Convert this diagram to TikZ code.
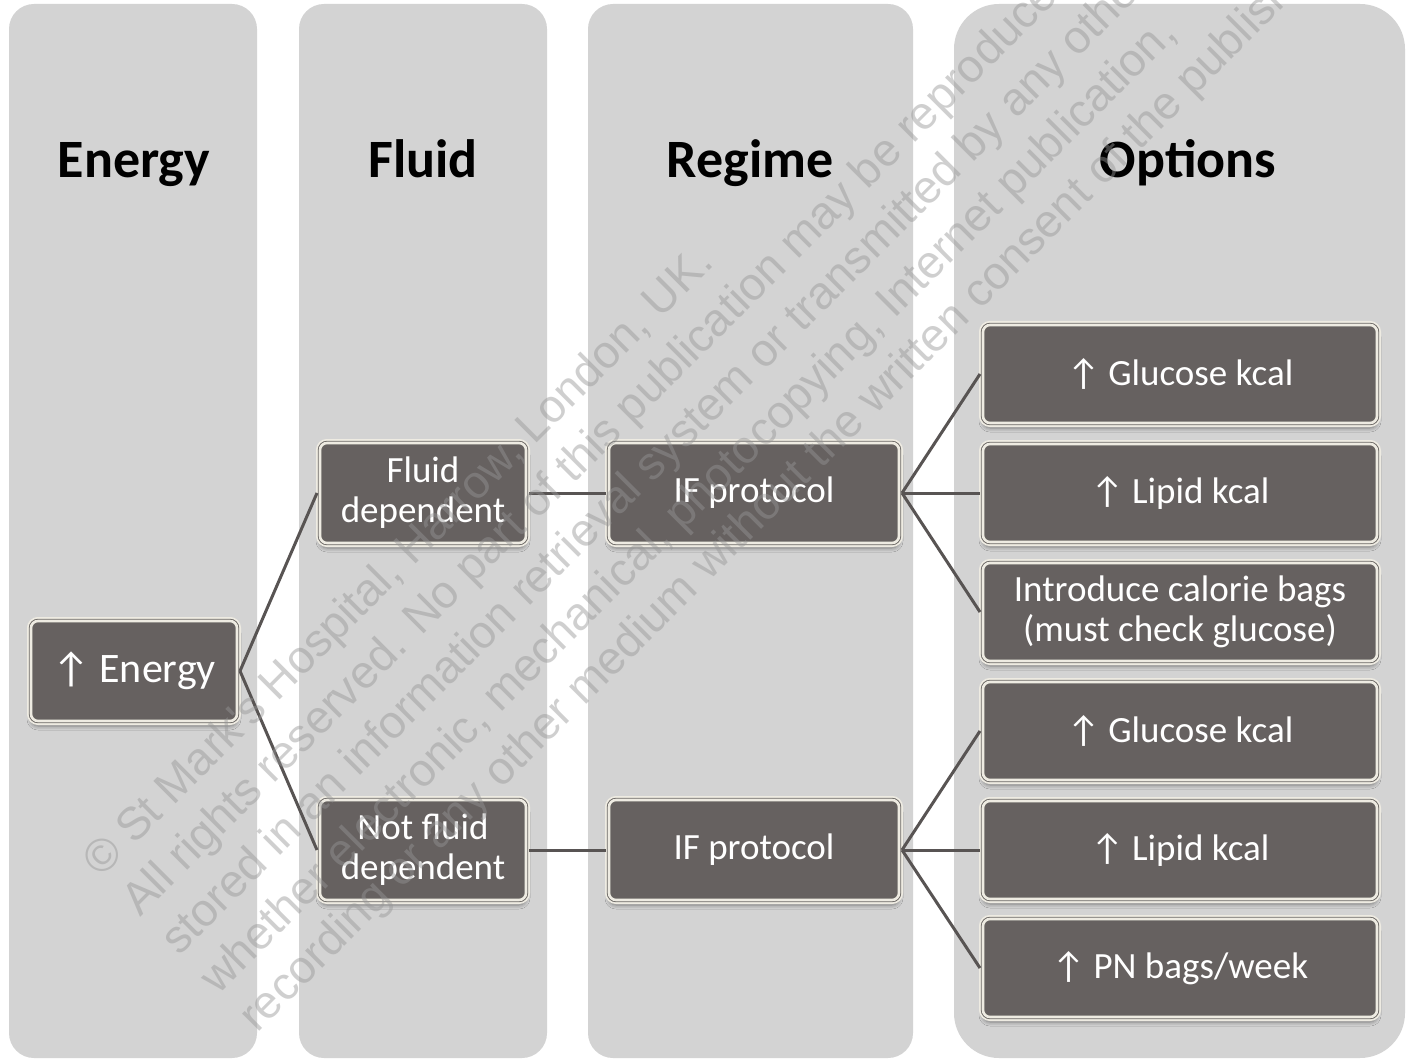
\documentclass[tikz,border=0pt]{standalone}
\usepackage{fontspec}
\setmainfont{Carlito}
\newfontfamily\wmfont{Liberation Sans}
\newcommand{\uparr}{↑\hspace{0.22em}}
\usetikzlibrary{shadows.blur}
\definecolor{colbg}{RGB}{211,211,211}
\definecolor{boxfill}{RGB}{102,97,96}
\definecolor{cream}{RGB}{238,235,226}
\definecolor{edgec}{RGB}{105,101,98}
\definecolor{conn}{RGB}{88,84,83}
\definecolor{wmc}{RGB}{150,150,150}
\begin{document}
\begin{tikzpicture}[x=1pt,y=-1pt,
  colbox/.style={fill=colbg},
  head/.style={anchor=base, font=\fontsize{54}{60}\selectfont\bfseries, text=black},
  box/.style={rectangle, rounded corners=7pt,
    blur shadow={shadow xshift=0pt, shadow yshift=-5pt, shadow blur radius=4pt, shadow opacity=45},
    preaction={draw=cream, line width=8pt},
    fill=boxfill, draw=edgec, line width=0.9pt, double=cream, double distance=2.6pt,
    text=white, align=center, inner sep=0pt, outer sep=3pt,
    minimum height=100pt, font=\fontsize{37}{40}\selectfont},
  smallbox/.style={box, minimum width=206pt},
  ifbox/.style={box, minimum width=290pt},
  optbox/.style={box, minimum width=394pt, minimum height=98pt},
  link/.style={draw=conn, line width=3pt},
  wmtext/.style={anchor=base west, rotate=45, text=wmc, opacity=0.45, font=\wmfont\fontsize{46}{55}\selectfont, inner sep=0pt}
]
\useasboundingbox (0,0) rectangle (1406,1059);
\fill[white] (0,0) rectangle (1406,1059);
% columns
\fill[colbox, rounded corners=25pt] (9,4) rectangle (257,1058);
\fill[colbox, rounded corners=25pt] (299,4) rectangle (547,1058);
\fill[colbox, rounded corners=25pt] (588,4) rectangle (913,1058);
\fill[colbox, rounded corners=45pt] (954,4) rectangle (1405,1058);
% headers
\node[head] (h1) at (134,178) {Energy};
\node[head] (h2) at (423,178) {Fluid};
\node[head] (h3) at (750,178) {Regime};
\node[head] (h4) at (1188,178) {Options};
% boxes
\node[smallbox, font=\fontsize{42}{46}\selectfont] (en) at (134,671) {\uparr Energy};
\node[smallbox] (fd) at (423,493) {Fluid\\dependent};
\node[smallbox] (nfd) at (423,850) {Not fluid\\dependent};
\node[ifbox] (if1) at (754,493) {IF protocol};
\node[ifbox] (if2) at (754,850) {IF protocol};
\node[optbox] (o1) at (1180,374) {\uparr Glucose kcal};
\node[optbox] (o2) at (1180,493) {\uparr Lipid kcal};
\node[optbox] (o3) at (1180,612) {Introduce calorie bags\\(must check glucose)};
\node[optbox] (o4) at (1180,731) {\uparr Glucose kcal};
\node[optbox] (o5) at (1180,850) {\uparr Lipid kcal};
\node[optbox] (o6) at (1180,968) {\uparr PN bags/week};
% connectors
\draw[link] (en.east) -- (fd.west);
\draw[link] (en.east) -- (nfd.west);
\draw[link] (fd.east) -- (if1.west);
\draw[link] (nfd.east) -- (if2.west);
\foreach \t in {o1,o2,o3} \draw[link] (if1.east) -- (\t.west);
\foreach \t in {o4,o5,o6} \draw[link] (if2.east) -- (\t.west);
% watermark
\begin{scope}
\clip (0,0) rectangle (1406,1059);
\node[wmtext] (wm1) at (101,879) {© St Mark's Hospital, Harrow, London, UK.};
\node[wmtext] (wm2) at (140,918) {All rights reserved. No part of this publication may be reproduced,};
\node[wmtext] (wm3) at (179,957) {stored in an information retrieval system or transmitted by any other means,};
\node[wmtext] (wm4) at (218,996) {whether electronic, mechanical, photocopying, Internet publication,};
\node[wmtext] (wm5) at (257,1034) {recording or any other medium without the written consent of the publisher.};
\end{scope}
\end{tikzpicture}
\end{document}
